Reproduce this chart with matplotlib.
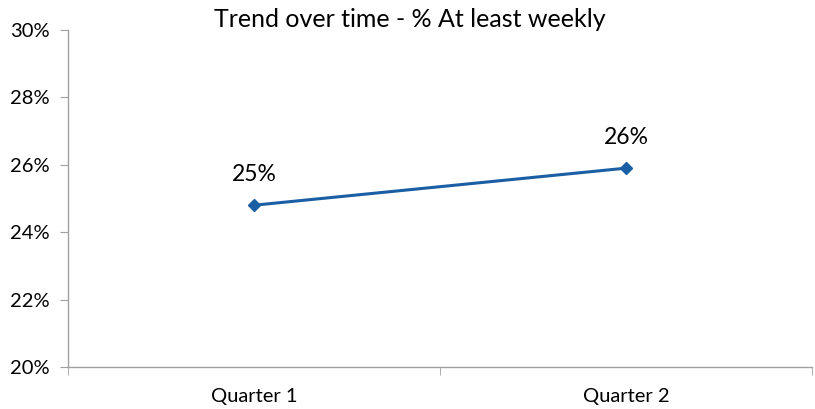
import matplotlib.pyplot as plt
from matplotlib.ticker import FixedLocator, FuncFormatter

plt.rcParams['font.family'] = ['Lato', 'DejaVu Sans']

# Data
categories = ['Quarter 1', 'Quarter 2']
values = [24.8, 25.9]
point_labels = ['25%', '26%']

fig = plt.figure(figsize=(8.15, 4.09), dpi=100)
ax = fig.add_axes([0.0834, 0.1027, 0.9129, 0.824])

x = [i + 0.5 for i in range(len(categories))]
ax.plot(x, values, color='#1A5EA3', lw=2.2, marker='D', markersize=6.5)

for xi, v, lab in zip(x, values, point_labels):
    ax.annotate(lab, (xi, v), xytext=(0, 22), textcoords='offset points',
                ha='center', va='center', fontsize=16.5)

ax.set_xlim(0, len(categories))
ax.set_ylim(20, 30)
ax.set_yticks(range(20, 31, 2))
ax.yaxis.set_major_formatter(FuncFormatter(lambda v, p: f'{v:.0f}%'))
ax.set_xticks(x)
ax.set_xticklabels(categories)
ax.xaxis.set_minor_locator(FixedLocator(range(len(categories) + 1)))
ax.tick_params(axis='x', which='major', length=0, pad=15, labelsize=14.5)
ax.tick_params(axis='x', which='minor', length=6, color='#A0A0A0')
ax.tick_params(axis='y', length=6, color='#A0A0A0', labelsize=14.5, pad=7)

for s in ['top', 'right']:
    ax.spines[s].set_visible(False)
for s in ['left', 'bottom']:
    ax.spines[s].set_color('#A0A0A0')
    ax.spines[s].set_linewidth(1)

fig.text(0.503, 0.953, 'Trend over time - % At least weekly', ha='center',
         va='center', fontsize=18)

fig.savefig('out.png', dpi=100)
